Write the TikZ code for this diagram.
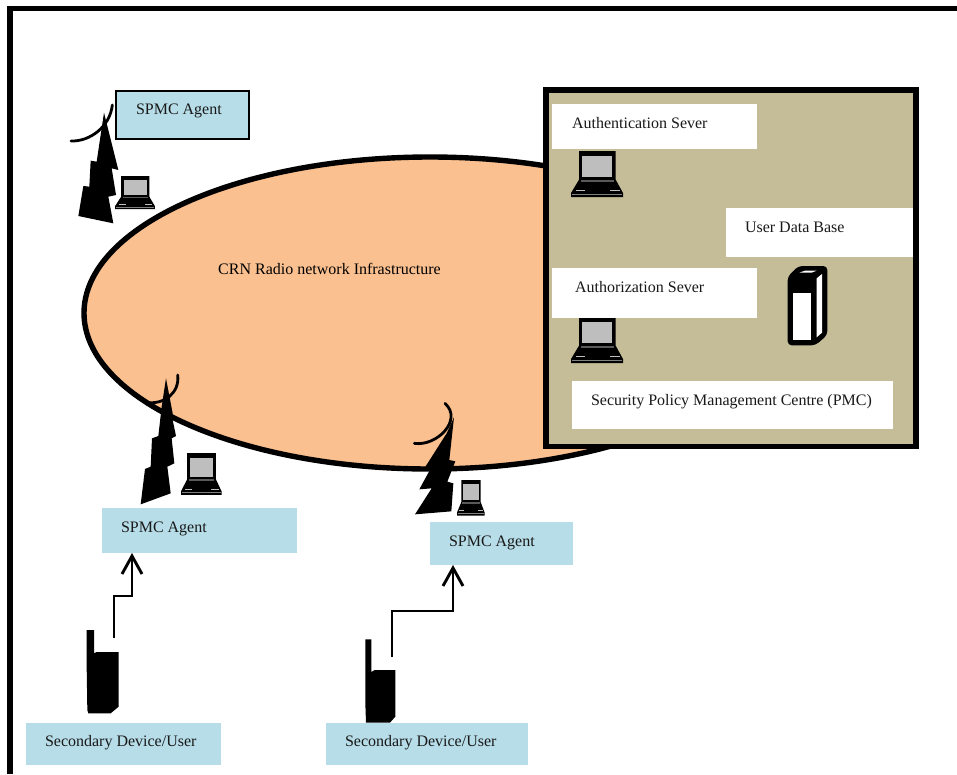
\documentclass[tikz,border=0pt]{standalone}
\usepackage{fontspec}
\setmainfont{Liberation Serif}
\usetikzlibrary{arrows.meta,shapes.geometric,calc}
\definecolor{agentblue}{HTML}{B7DDE8}
\definecolor{cloudorange}{HTML}{FAC090}
\definecolor{pmctan}{HTML}{C4BD97}
\definecolor{screengrey}{HTML}{BEBEBE}
\newcommand{\lbox}[9]{%
  \pgfmathsetmacro{\lw}{#4-#2}\pgfmathsetmacro{\lh}{#5-#3}%
  \pgfmathsetmacro{\lx}{#7-#2}\pgfmathsetmacro{\ly}{(#3+#5)/2-#8}%
  \node[lblbox,#6,anchor=north west,minimum width=\lw pt,minimum height=\lh pt] (#1) at (#2,#3)
    {\makebox[\lw pt][l]{\hspace*{\lx pt}\raisebox{\ly pt}[0pt][0pt]{#9}}};}
\tikzset{
  lblbox/.style={rectangle,inner sep=0pt,outer sep=0pt,text=black!90},
  agentbox/.style={fill=agentblue},
  whitebox/.style={fill=white},
  framed/.style={draw=black,line width=1.6pt},
  flow/.style={line width=2.7pt,-{Straight Barb[length=18pt,width=20pt,line width=2.9pt]}},
  aerial/.style={line width=2.8pt,line cap=round},
  laptop/.pic={
    \fill[black] (24,0)--(134,0)--(134,86)--(156,126)--(156,138)--(0,138)--(0,126)--(24,86)--cycle;
    \fill[screengrey] (34,16)--(124,16)--(124,78)--(34,78)--cycle;
    \fill[black!65] (30,86)--(128,86)--(128,92)--(30,92)--cycle;
    \fill[black!25] (14,117)--(42,117)--(42,121)--(14,121)--cycle;
    \fill[black!25] (116,117)--(146,117)--(146,121)--(116,121)--cycle;
    \fill[black!50] (3,128)--(153,128)--(153,132)--(3,132)--cycle;
  }
}
\begin{document}
\begin{tikzpicture}[x=1pt,y=-1pt,font=\fontsize{16}{18}\selectfont]
\useasboundingbox (0,0) rectangle (957,774);
\fill[white] (0,0) rectangle (957,774);
% page frame
\coordinate (fa) at (10,774);
\coordinate (fb) at (10,8.5);
\coordinate (fc) at (957,8.5);
\draw[line width=5.6pt] (fa) -- (fb) -- (fc);
% network
\node[ellipse,draw=black,line width=5.4pt,fill=cloudorange,minimum width=692pt,minimum height=312pt,inner sep=0pt,outer sep=0pt] (crn) at (430,313) {};
\node[anchor=base,inner sep=0pt] (crnlabel) at (329.5,274) {CRN Radio network Infrastructure};
% tower top left
\begin{scope}[shift={(60,80)},scale=1/3]
  \fill (132,98)--(175,270)--(155,265)--(168,345)--(145,350)--(160,430)--(55,408)--(70,318)--(88,320)--(92,242)--(110,245)--cycle;
  \draw[aerial] (33,183) .. controls (90,185) and (150,140) .. (157,75);
\end{scope}
% tower lower left, lower middle
\begin{scope}[shift={(130,370)},scale=1/3]
  \fill (108,25)--(128,130)--(128,150)--(138,198)--(125,205)--(133,280)--(112,290)--(122,370)--(32,403)--(45,297)--(62,290)--(66,205)--(85,198)--(95,110)--cycle;
  \draw[aerial] (50,97) .. controls (100,105) and (150,70) .. (143,15);
  \fill (972,142)--(958,270)--(976,274)--(952,335)--(970,340)--(964,424)--(855,433)--(905,355)--(868,358)--(905,290)--(885,292)--(950,190)--cycle;
  \draw[aerial] (853,220) .. controls (920,230) and (1000,150) .. (945,100);
\end{scope}
% laptops outside
\pic[shift={(115,176)},xscale=.256,yscale=.24] {laptop};
\pic[shift={(181,453)},xscale=.26,yscale=.304] {laptop};
\pic[shift={(457,480)},xscale=.177,yscale=.258] {laptop};
% phones
\begin{scope}[shift={(70,550)},scale=1/3]
  \fill (50,240)--(72,240)--(72,310)--(80,306)--(146,306)--(146,470)--(122,490)--(55,490)--(52,480)--(50,350)--cycle;
  \fill (886,268)--(904,268)--(904,366)--(914,360)--(976,360)--(976,500)--(960,518)--(888,518)--(886,460)--cycle;
\end{scope}
% agents and users
\lbox{agent1}{116}{91}{249}{139}{agentbox,framed}{136}{114.5}{SPMC Agent}
\lbox{agent2}{102}{508}{297}{553}{agentbox}{121}{532}{SPMC Agent}
\lbox{agent3}{430}{522}{573}{565}{agentbox}{449}{546}{SPMC Agent}
\lbox{user1}{26}{723}{221}{765}{agentbox}{45}{746}{Secondary Device/User}
\lbox{user2}{326}{723}{528}{765}{agentbox}{345}{746}{Secondary Device/User}
% arrows
\coordinate (p1) at (114,638);
\coordinate (k1) at (114,596);
\coordinate (k1b) at (132,596);
\draw[flow] (p1) -- (k1) -- (k1b) -- (k1b |- agent2.south);
\coordinate (p2) at (392,657);
\coordinate (k2) at (392,611);
\coordinate (k2b) at (453,611);
\draw[flow] (p2) -- (k2) -- (k2b) -- (k2b |- agent3.south);
% PMC
\node[rectangle,draw=black,line width=5.8pt,fill=pmctan,anchor=north west,minimum width=370pt,minimum height=356.5pt,inner sep=0pt,outer sep=0pt] (pmc) at (546,90) {};
\pic[shift={(571,151)},scale=1/3] {laptop};
\pic[shift={(571,317)},scale=1/3] {laptop};
\lbox{authn}{552}{104}{757}{149}{whitebox}{572}{128}{Authentication Sever}
\lbox{udb}{726}{208}{913}{257}{whitebox}{745}{232}{User Data Base}
\lbox{authz}{552}{268}{757}{318}{whitebox}{575}{292}{Authorization Sever}
\lbox{secpmc}{572}{381}{893}{429}{whitebox}{591}{405}{Security Policy Management Centre (PMC)}
% database server
\begin{scope}[shift={(540,80)},scale=1/3]
  \fill[rounded corners=4pt] (743,590)--(775,558)--(862,558)--(862,765)--(826,796)--(743,796)--cycle;
  \fill[white] (758,638)--(812,638)--(812,780)--(758,780)--cycle;
  \fill[white] (830,595)--(846,582)--(846,758)--(830,772)--cycle;
  \fill[white] (778,578)--(795,572)--(830,572)--(815,578)--cycle;
\end{scope}
\end{tikzpicture}
\end{document}
